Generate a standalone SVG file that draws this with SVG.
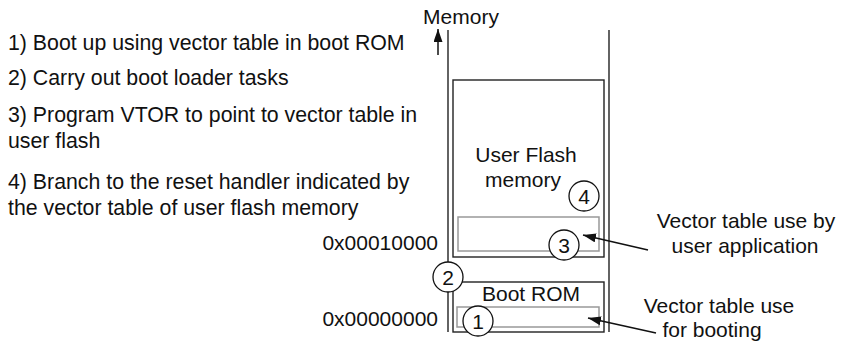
<svg xmlns="http://www.w3.org/2000/svg" width="842" height="345" viewBox="0 0 842 345">
<defs>
<marker id="ah" viewBox="0 0 13 9" refX="13" refY="4.5" markerWidth="13" markerHeight="9" markerUnits="userSpaceOnUse" orient="auto">
<path d="M0,0 L13,4.5 L0,9 Z" fill="#111"/>
</marker>
</defs>
<style>
text{font-family:"Liberation Sans",Arial,sans-serif;font-size:21px;fill:#111}
#steps text{font-size:21.3px}
.ln{stroke:#222;stroke-width:1.4;fill:none}
.box{stroke:#222;stroke-width:1.4;fill:#fff}
.vt{stroke:#999;stroke-width:1.5;fill:none}
.c{stroke:#111;stroke-width:1.3;fill:#fff}
.m{text-anchor:middle}
.e{text-anchor:end}
.arr{stroke:#111;stroke-width:1.5;fill:none;marker-end:url(#ah)}
</style>
<rect width="842" height="345" fill="#fff"/>
<g id="steps">
<text x="8" y="50">1) Boot up using vector table in boot ROM</text>
<text x="8" y="85">2) Carry out boot loader tasks</text>
<text x="8" y="122">3) Program VTOR to point to vector table in</text>
<text x="8" y="148">user flash</text>
<text x="8" y="189">4) Branch to the reset handler indicated by</text>
<text x="8" y="215">the vector table of user flash memory</text>
</g>
<g id="memory">
<text x="461" y="24" class="m">Memory</text>
<line class="ln" x1="448" y1="30" x2="448" y2="332"/>
<line class="ln" x1="609" y1="30" x2="609" y2="332"/>
</g>
<g id="userflash">
<rect class="box" x="453" y="80" width="151" height="177"/>
<text x="526" y="162" class="m">User Flash</text>
<text x="523" y="187" class="m">memory</text>
<rect class="vt" x="458" y="217" width="141" height="34"/>
</g>
<g id="bootrom">
<rect class="box" x="453" y="282" width="151" height="50"/>
<text x="531" y="301" class="m">Boot ROM</text>
<rect class="vt" x="457" y="307" width="142" height="20"/>
</g>
<g id="addresses">
<text x="438" y="250" class="e">0x00010000</text>
<text x="438" y="326" class="e">0x00000000</text>
</g>
<g id="markers">
<g id="m1"><circle class="c" cx="478" cy="321" r="15"/><text x="478" y="328.5" class="m">1</text></g>
<g id="m2"><circle class="c" cx="448" cy="277" r="15"/><text x="448" y="284.5" class="m">2</text></g>
<g id="m3"><circle class="c" cx="564" cy="245" r="15"/><text x="564" y="252.5" class="m">3</text></g>
<g id="m4"><circle class="c" cx="584" cy="196" r="15"/><text x="584" y="203.5" class="m">4</text></g>
</g>
<g id="labels">
<text x="746" y="228" class="m">Vector table use by</text>
<text x="745" y="253" class="m">user application</text>
<text x="719" y="313" class="m">Vector table use</text>
<text x="712" y="337" class="m">for booting</text>
</g>
<g id="connectors">
<line class="arr" x1="438" y1="55" x2="438" y2="29"/>
<line class="arr" x1="648" y1="250" x2="583" y2="235"/>
<line class="arr" x1="656" y1="333" x2="588" y2="318"/>
</g>
</svg>
